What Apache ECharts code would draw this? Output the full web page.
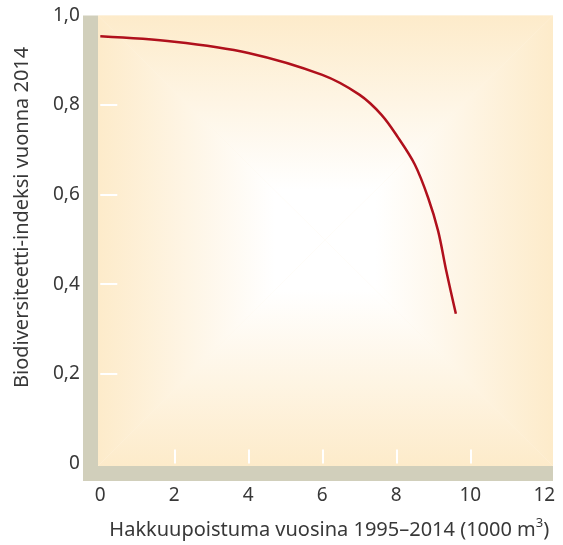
<!DOCTYPE html>
<html>
<head>
<meta charset="utf-8">
<script src="https://cdn.jsdelivr.net/npm/echarts@6/dist/echarts.min.js"></script>
<style>
  html, body { margin: 0; padding: 0; background: #fff; }
  #chart { width: 563px; height: 545px; }
</style>
</head>
<body>
<div id="chart"></div>
<script>
// data
const hakkuu = [0, 2, 4, 6, 7, 7.6, 8.05, 8.5, 8.86, 9.13, 9.35, 9.61];
const indeksi = [0.953, 0.941, 0.916, 0.867, 0.823, 0.778, 0.727, 0.667, 0.593, 0.519, 0.43, 0.334];
const xTicks = [2, 4, 6, 8, 10];
const yTicks = [0.2, 0.4, 0.6, 0.8];

const chart = echarts.init(document.getElementById('chart'));

const font = 'Noto Sans';
const textColor = '#383838';
const band = '#d1cfbb';
const edge = '#fdebca';

// taustan "suorakulmainen" liukuväri neljästä kolmiosta
const L = 98, R = 553, T = 15.5, B = 466, CX = 325, CY = 240;
function stops() {
  return [
    { offset: 0, color: edge },
    { offset: 0.78, color: '#ffffff' },
    { offset: 1, color: '#ffffff' }
  ];
}
function tri(points, x1, y1, x2, y2) {
  return {
    type: 'polygon', z: -10,
    shape: { points: points },
    style: { fill: new echarts.graphic.LinearGradient(x1, y1, x2, y2, stops(), true) }
  };
}

chart.setOption({
  animation: false,
  grid: { left: 100.3, right: 18.7, top: 15.3, bottom: 79.7 },
  graphic: [
    { type: 'rect', z: -11, shape: { x: L, y: T, width: R - L, height: B - T }, style: { fill: '#fef5e4' } },
    tri([[L, T], [L, B], [CX, CY]], L, 0, CX, 0),
    tri([[R, T], [R, B], [CX, CY]], R, 0, CX, 0),
    tri([[L, T], [R, T], [CX, CY]], 0, T, 0, CY),
    tri([[L, B], [R, B], [CX, CY]], 0, B, 0, CY),
    // harmaat reunat
    { type: 'rect', z: -9, shape: { x: 83, y: T, width: 15, height: 481 - T }, style: { fill: band } },
    { type: 'rect', z: -9, shape: { x: 83, y: B, width: R - 83, height: 15 }, style: { fill: band } }
  ],
  xAxis: {
    type: 'value',
    min: 0, max: 12, interval: 2,
    offset: 7,
    axisLine: { show: false },
    splitLine: { show: false },
    axisTick: { show: true, inside: true, length: 14, customValues: xTicks, lineStyle: { color: '#fff', width: 2 } },
    axisLabel: { margin: 16, fontFamily: font, fontSize: 19, color: textColor },
    name: 'Hakkuupoistuma vuosina 1995\u20132014 (1000 m{sup|3})',
    nameLocation: 'middle',
    nameGap: 46,
    nameTextStyle: {
      fontFamily: font, fontSize: 20, color: textColor, padding: [0, 0, 0, 14],
      rich: { sup: { fontFamily: font, fontSize: 13, color: textColor, verticalAlign: 'top', padding: [0, 0, 14, 0] } }
    }
  },
  yAxis: {
    type: 'value',
    min: 0, max: 1, interval: 0.2,
    offset: 8.5,
    axisLine: { show: false },
    splitLine: { show: false },
    axisTick: { show: true, inside: true, length: 17, customValues: yTicks, lineStyle: { color: '#fff', width: 2 } },
    axisLabel: {
      margin: 12, fontFamily: font, fontSize: 19, color: textColor,
      formatter: v => v === 0 ? '0' : v.toFixed(1).replace('.', ',')
    },
    name: 'Biodiversiteetti-indeksi vuonna 2014',
    nameLocation: 'middle',
    nameGap: 60,
    nameTextStyle: { fontFamily: font, fontSize: 20, color: textColor, padding: [0, 0, 0, 44] }
  },
  series: [
    {
      type: 'line',
      data: hakkuu.map((x, i) => [x, indeksi[i]]),
      smooth: 0.35,
      showSymbol: false,
      lineStyle: { color: '#b0101c', width: 2.5 }
    }
  ]
});
</script>
</body>
</html>
